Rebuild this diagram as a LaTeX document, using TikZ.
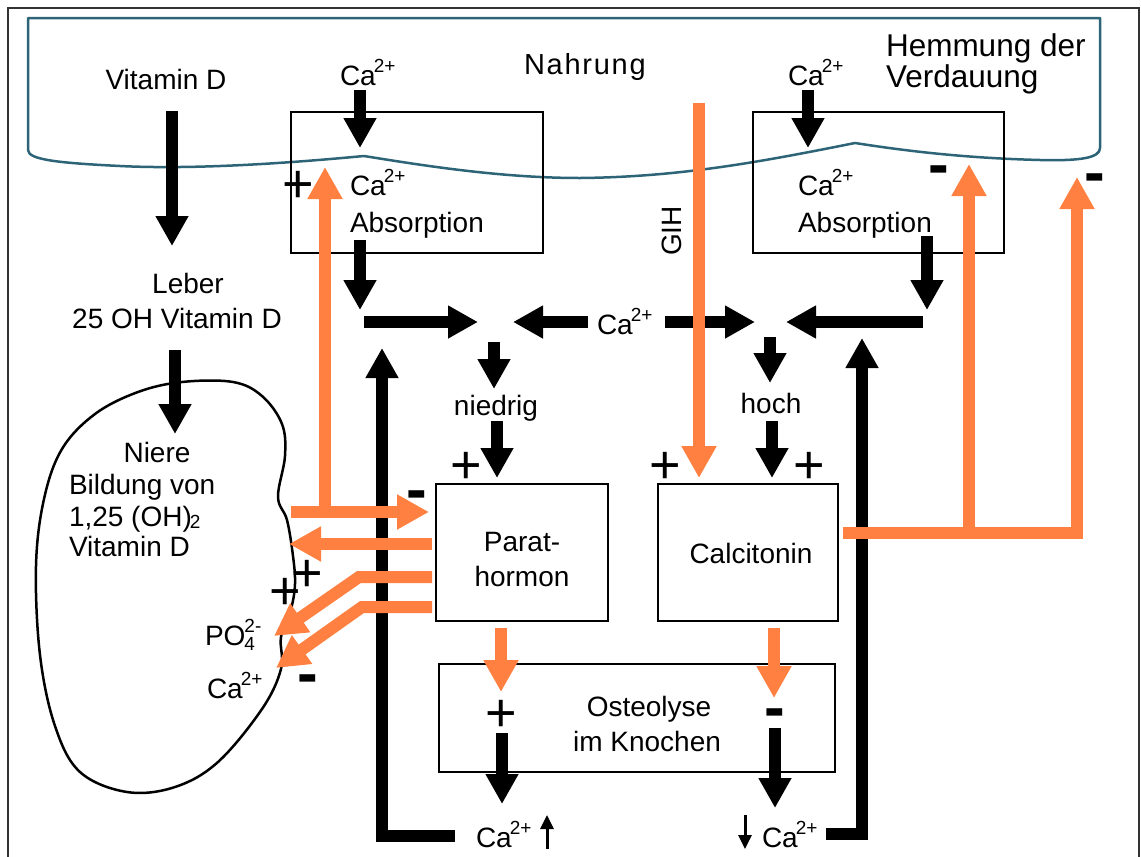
\documentclass[tikz,border=0pt]{standalone}
\usepackage{fontspec}
\setmainfont{Liberation Sans}
\usetikzlibrary{arrows.meta}
\definecolor{orangeC}{RGB}{255,128,64}
\definecolor{tealC}{RGB}{46,100,120}
\newcommand{\Caion}{Ca\kern-2pt\raisebox{13pt}{\fontsize{19}{19}\selectfont 2+}}
\newcommand{\POion}{PO\kern-1pt\rlap{\raisebox{13pt}{\fontsize{19}{19}\selectfont 2-}}\raisebox{-5pt}{\fontsize{19}{19}\selectfont 4}}
\begin{document}
\begin{tikzpicture}[x=1pt,y=-1pt,
 txt/.style={font=\fontsize{28}{33}\selectfont, inner sep=0pt, outer sep=0pt},
 bigtxt/.style={font=\fontsize{31.5}{31}\selectfont, inner sep=0pt, outer sep=0pt},
 plus/.style={font=\fontsize{54}{54}\selectfont, inner sep=0pt, anchor=base},
 minus/.style={font=\fontsize{62}{62}\selectfont\bfseries, inner sep=0pt, anchor=base},
 box/.style={draw, line width=2.5pt, inner sep=0pt},
 blk/.style={line width=12pt, line join=miter, -{Triangle[width=31pt,length=30pt]}},
 org/.style={line width=12pt, draw=orangeC, line join=miter, -{Triangle[width=33pt,length=32pt]}},
 thinar/.style={line width=3pt, -{Triangle[width=13pt,length=14pt]}},
]
\useasboundingbox (0,0) rectangle (1141,857);
% outer frame
\draw[line width=2pt, black!80] (8,857) -- (8,8) -- (1139,8) -- (1139,857);
% Nahrung (digestive tract) outline
\draw[tealC, line width=2.5pt, line join=round]
  (28,18) -- (1100,18) -- (1100,148)
  .. controls (1100,158) and (1080,161) .. (1040,160)
  .. controls (960,158) and (900,150) .. (855,143)
  .. controls (760,162) and (680,177) .. (580,178)
  .. controls (500,178) and (420,165) .. (364,156)
  .. controls (300,162) and (200,170) .. (120,166)
  .. controls (60,163) and (28,160) .. (28,150) -- cycle;
% kidney
\draw[line width=2.5pt] plot[smooth cycle, tension=0.6] coordinates {
 (282,424) (262,396) (233,382) (182,382) (138,392) (95,414) (62,449) (44,499)
 (36,566) (40,655) (55,726) (80,772) (127,792) (175,787) (218,762) (262,709)
 (281,669) (281,637) (291,609) (295,584) (293,556) (287,520) (278,497) (285,456)};

% boxes
\node[box, minimum width=252pt, minimum height=141pt] (abs1) at (417,182.5) {};
\node[box, minimum width=251pt, minimum height=141pt] (abs2) at (878.5,182.5) {};
\node[box, minimum width=172pt, minimum height=137pt] (pth) at (522,552.5) {};
\node[box, minimum width=180pt, minimum height=137pt] (cal) at (748,552.5) {};
\node[box, minimum width=396pt, minimum height=108pt] (ost) at (637,718) {};

% texts
\node[txt, anchor=base] (vitd) at (166,89) {Vitamin D};
\node[txt, anchor=base west] (ca1) at (340,85) {\Caion};
\node[txt, anchor=base west, font=\fontsize{29}{33}\selectfont\addfontfeatures{LetterSpace=6}] (nahr) at (524,74) {Nahrung};
\node[txt, anchor=base west] (ca2) at (788,85) {\Caion};
\node[bigtxt, anchor=base west] (hem1) at (886,56) {Hemmung der};
\node[bigtxt, anchor=base west] (hem2) at (886,87) {Verdauung};
\node[txt, anchor=base west] (abs1a) at (350,195) {\Caion};
\node[txt, anchor=base west] (abs1b) at (350,232) {Absorption};
\node[txt, anchor=base west] (abs2a) at (798,195) {\Caion};
\node[txt, anchor=base west] (abs2b) at (798,232) {Absorption};
\node[txt, rotate=90] (gih) at (672,231) {GIH};
\node[txt, anchor=base] (leber) at (188,293) {Leber};
\node[txt, anchor=base] (ohd) at (177,328) {25 OH Vitamin D};
\node[txt, anchor=base west] (camid) at (597,334) {\Caion};
\node[txt, anchor=base] (nied) at (496,415) {niedrig};
\node[txt, anchor=base] (hoch) at (771,413) {hoch};
\node[txt, anchor=base] (ptha) at (522,551) {Parat-};
\node[txt, anchor=base] (pthb) at (522,586) {hormon};
\node[txt, anchor=base] (calt) at (751,563) {Calcitonin};
\node[txt, anchor=base] (osta) at (649,716) {Osteolyse};
\node[txt, anchor=base] (ostb) at (647,751) {im Knochen};
\node[txt, anchor=base] (nier) at (157,462) {Niere};
\node[txt, anchor=base west] (nierb) at (69,494) {Bildung von};
\node[txt, anchor=base west] (nierc) at (69,526) {1,25 (OH)\kern-2pt\raisebox{-2pt}{\fontsize{19}{19}\selectfont 2}};
\node[txt, anchor=base west] (nierd) at (69,556) {Vitamin D};
\node[txt, anchor=base west] (po4) at (205,645) {\POion};
\node[txt, anchor=base west] (cak) at (207,698) {\Caion};
\node[txt, anchor=base west] (cab1) at (476,847) {\Caion};
\node[txt, anchor=base west] (cab2) at (762,847) {\Caion};

% plus / minus signs
\node[plus] (p1) at (298,202) {+};
\node[plus] (p2) at (466,483) {+};
\node[plus] (p3) at (665,483) {+};
\node[plus] (p4) at (809,483) {+};
\node[plus] (p5) at (285,609) {+};
\node[plus] (p6) at (307,591) {+};
\node[plus] (p7) at (501,731) {+};
\node[minus] (m1) at (939,185) {-};
\node[minus] (m2) at (1095,193) {-};
\node[minus] (m3) at (417,510) {-};
\node[minus] (m4) at (308,694) {-};
\node[minus] (m5) at (775,728) {-};

% coordinates for connectors
\coordinate (vdS) at (172,111);   \coordinate (vdE) at (172,246);
\coordinate (c1S) at (360,90);    \coordinate (c1E) at (360,148);
\coordinate (c2S) at (808,90);    \coordinate (c2E) at (808,148);
\coordinate (a1S) at (360,240);   \coordinate (a1E) at (360,310);
\coordinate (a2S) at (927,236);   \coordinate (a2E) at (927,310);
\coordinate (h1S) at (364,322);   \coordinate (h1E) at (478,322);
\coordinate (h2S) at (588,322);   \coordinate (h2E) at (513,322);
\coordinate (h3S) at (665,322);   \coordinate (h3E) at (755,322);
\coordinate (h4S) at (923,322);   \coordinate (h4E) at (786,322);
\coordinate (nS) at (494,342);    \coordinate (nE) at (494,389);
\coordinate (n2S) at (497,421);   \coordinate (n2E) at (497,478);
\coordinate (hS) at (770,337);    \coordinate (hE) at (770,383);
\coordinate (h2aS) at (772,421);  \coordinate (h2aE) at (772,478);
\coordinate (lS) at (175,350);    \coordinate (lE) at (175,434);
\coordinate (o1S) at (502,733);   \coordinate (o1E) at (502,804);
\coordinate (o2S) at (775,728);   \coordinate (o2E) at (775,808);
\coordinate (fl1) at (455,836);   \coordinate (fl2) at (382,836);  \coordinate (fl3) at (382,348);
\coordinate (fr1) at (826,834);   \coordinate (fr2) at (862,834);  \coordinate (fr3) at (862,338);
\coordinate (t1S) at (547,849);   \coordinate (t1E) at (547,815);
\coordinate (t2S) at (745,815);   \coordinate (t2E) at (745,849);
\coordinate (gS) at (699,103);    \coordinate (gE) at (699,478);
\coordinate (kS) at (291,512);    \coordinate (kE) at (429,512);
\coordinate (kb) at (325,512);    \coordinate (kbE) at (325,167);
\coordinate (q1S) at (432,544);   \coordinate (q1E) at (289,544);
\coordinate (q2S) at (432,577);   \coordinate (q2M) at (359,577);  \coordinate (q2E) at (274,636);
\coordinate (q3S) at (432,607);   \coordinate (q3M) at (362,607);  \coordinate (q3E) at (276,668);
\coordinate (r1S) at (501,628);   \coordinate (r1E) at (501,692);
\coordinate (r2S) at (774,628);   \coordinate (r2E) at (774,698);
\coordinate (sS) at (843,533);    \coordinate (sM) at (1077,533);  \coordinate (sE) at (1077,177);
\coordinate (sb) at (969,533);    \coordinate (sbE) at (969,164);

% black arrows
\draw[blk] (vdS) -- (vdE);
\draw[blk] (c1S) -- (c1E);
\draw[blk] (c2S) -- (c2E);
\draw[blk] (a1S) -- (a1E);
\draw[blk] (a2S) -- (a2E);
\draw[blk] (h1S) -- (h1E);
\draw[blk] (h2S) -- (h2E);
\draw[blk] (h3S) -- (h3E);
\draw[blk] (h4S) -- (h4E);
\draw[blk] (nS) -- (nE);
\draw[blk] (n2S) -- (n2E);
\draw[blk] (hS) -- (hE);
\draw[blk] (h2aS) -- (h2aE);
\draw[blk] (lS) -- (lE);
\draw[blk] (o1S) -- (o1E);
\draw[blk] (o2S) -- (o2E);
\draw[blk] (fl1) -- (fl2) -- (fl3);
\draw[blk] (fr1) -- (fr2) -- (fr3);
\draw[thinar] (t1S) -- (t1E);
\draw[thinar] (t2S) -- (t2E);

% orange arrows
\draw[org] (gS) -- (gE);
\draw[org] (kS) -- (kE);
\draw[org] (kb) -- (kbE);
\draw[org] (q1S) -- (q1E);
\draw[org] (q2S) -- (q2M) -- (q2E);
\draw[org] (q3S) -- (q3M) -- (q3E);
\draw[org] (r1S) -- (r1E);
\draw[org] (r2S) -- (r2E);
\draw[org] (sS) -- (sM) -- (sE);
\draw[org] (sb) -- (sbE);
\end{tikzpicture}
\end{document}
